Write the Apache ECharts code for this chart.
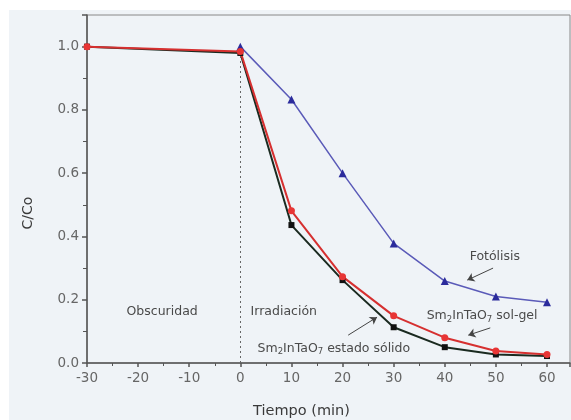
<!DOCTYPE html>
<html lang="es" style="height: 100%">
<head>
  <meta charset="utf-8">
  <script src="https://cdn.jsdelivr.net/npm/echarts/dist/echarts.min.js"></script>
</head>
<body style="height: 100%; margin: 0; background: #fff">
  <div id="container" style="width: 571px; height: 420px"></div>

  <script type="text/javascript">
    // tiempo (min)
    var tiempo = [-30, 0, 10, 20, 30, 40, 50, 60];
    var tiempoFoto = [0, 10, 20, 30, 40, 50, 60];
    // C/Co
    var solido = [1.0, 0.98, 0.436, 0.262, 0.113, 0.05, 0.027, 0.022];
    var solGel = [1.0, 0.985, 0.481, 0.273, 0.149, 0.08, 0.038, 0.027];
    var fotolisis = [1.0, 0.833, 0.6, 0.378, 0.259, 0.21, 0.192];

    function pares(xs, ys) {
      return xs.map(function (x, i) { return [x, ys[i]]; });
    }

    var dom = document.getElementById('container');
    var myChart = echarts.init(dom, null, { renderer: 'canvas' });

    var fuente = 'DejaVu Sans';
    var richSm = {
      n: { color: '#4a4a4a', fontSize: 12.5, fontFamily: fuente },
      s: { color: '#4a4a4a', fontSize: 8.5, fontFamily: fuente, padding: [7, 0, 0, 0] }
    };

    function etiqueta(x, y, text) {
      return {
        coord: [x, y],
        symbol: 'circle', symbolSize: 1,
        itemStyle: { color: 'rgba(0,0,0,0)' },
        label: { show: true, position: 'inside', formatter: text, rich: richSm }
      };
    }
    function flecha(x1, y1, x2, y2) {
      return [{ coord: [x1, y1] }, { coord: [x2, y2] }];
    }

    var option = {
      backgroundColor: '#fff',
      animation: false,
      graphic: [{
        type: 'rect', z: -10, silent: true,
        shape: { x: 9, y: 10, width: 562, height: 410 },
        style: { fill: '#eff3f7' }
      }],
      grid: {
        left: 87, right: 1, top: 15, bottom: 57, outerBoundsMode: 'none',
        show: true, borderColor: '#888', borderWidth: 1
      },
      xAxis: {
        type: 'value', min: -30, max: 64.5, interval: 10,
        name: 'Tiempo (min)', nameLocation: 'middle', nameGap: 41,
        nameTextStyle: { color: '#3a3a3a', fontSize: 14.5, fontFamily: fuente, padding: [0, 54, 0, 0] },
        axisLine: { onZero: false, lineStyle: { color: '#555', width: 1.5 } },
        axisTick: { length: 4, lineStyle: { color: '#555', width: 1.5 } },
        minorTick: { show: true, splitNumber: 2, length: 3, lineStyle: { color: '#555' } },
        axisLabel: { color: '#666', fontSize: 13.5, fontFamily: fuente, margin: 8, showMaxLabel: false },
        splitLine: { show: false }
      },
      yAxis: {
        type: 'value', min: 0, max: 1.1, interval: 0.2,
        name: 'C/Co', nameLocation: 'middle', nameGap: 52,
        nameTextStyle: { color: '#3a3a3a', fontSize: 14, fontFamily: fuente, padding: [0, 48, 0, 0] },
        axisLine: { onZero: false, lineStyle: { color: '#555', width: 1.5 } },
        axisTick: { length: 5, lineStyle: { color: '#555', width: 1.5 } },
        minorTick: { show: true, splitNumber: 2, length: 4, lineStyle: { color: '#555' } },
        axisLabel: {
          color: '#666', fontSize: 13.5, fontFamily: fuente, margin: 8, showMaxLabel: false,
          formatter: function (v) { return v.toFixed(1); }
        },
        splitLine: { show: false }
      },
      series: [
        {
          name: 'Fotólisis', type: 'line', data: pares(tiempoFoto, fotolisis),
          symbol: 'triangle', symbolSize: 8,
          lineStyle: { color: '#5a5ab8', width: 1.5 },
          itemStyle: { color: '#2b2b9c' },
          markPoint: {
            silent: true,
            data: [
              etiqueta(-15.3, 0.162, '{n|Obscuridad}'),
              etiqueta(8.5, 0.162, '{n|Irradiación}'),
              etiqueta(49.8, 0.335, '{n|Fotólisis}'),
              etiqueta(47.3, 0.149, '{n|Sm}{s|2}{n|InTaO}{s|7}{n| sol-gel}'),
              etiqueta(18.3, 0.045, '{n|Sm}{s|2}{n|InTaO}{s|7}{n| estado sólido}')
            ]
          },
          markLine: {
            silent: true, symbol: ['none', 'arrow'], symbolSize: 7, label: { show: false },
            lineStyle: { color: '#444', type: 'solid', width: 1 },
            data: [
              flecha(49.45, 0.300, 44.4, 0.262),
              flecha(48.9, 0.111, 44.6, 0.088),
              flecha(21.1, 0.088, 26.75, 0.145)
            ]
          }
        },
        {
          name: 'Sm2InTaO7 estado sólido', type: 'line', data: pares(tiempo, solido),
          symbol: 'rect', symbolSize: 6,
          lineStyle: { color: '#1a2a20', width: 2 },
          itemStyle: { color: '#111' },
          markLine: {
            silent: true, symbol: ['none', 'none'], label: { show: false },
            lineStyle: { color: '#666', type: [2, 3], width: 1 },
            data: [[{ coord: [0, 0] }, { coord: [0, 0.98] }]]
          }
        },
        {
          name: 'Sm2InTaO7 sol-gel', type: 'line', data: pares(tiempo, solGel),
          symbol: 'circle', symbolSize: 7,
          lineStyle: { color: '#d63030', width: 2 },
          itemStyle: { color: '#e83535' }
        }
      ]
    };

    myChart.setOption(option);
    window.addEventListener('resize', myChart.resize);
  </script>
</body>
</html>
